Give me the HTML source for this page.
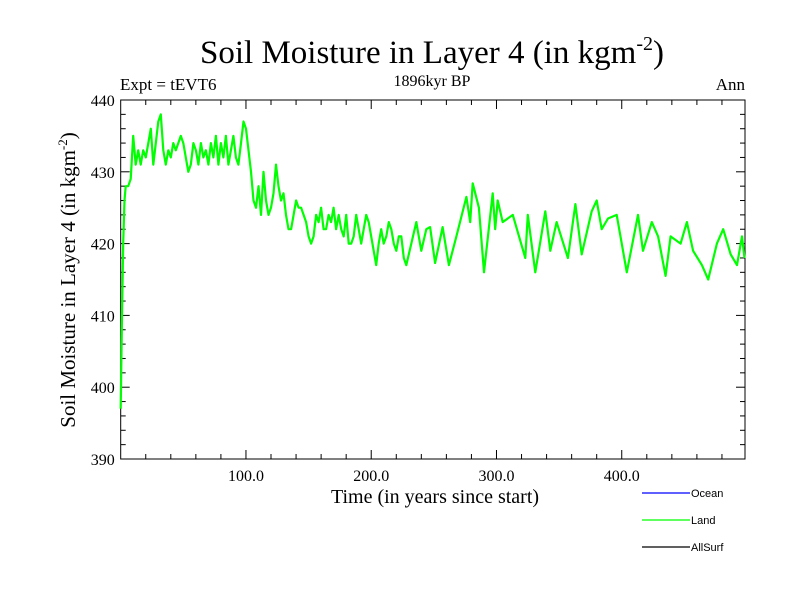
<!DOCTYPE html>
<html><head><meta charset="utf-8"><style>
body{margin:0;background:#fff;width:800px;height:600px;overflow:hidden}
text{font-family:"Liberation Serif",serif;fill:#000}
</style></head><body>
<svg width="800" height="600">
<text x="432" y="63" font-size="33" text-anchor="middle">Soil Moisture in Layer 4 (in kgm<tspan dy="-13" font-size="20">-2</tspan><tspan dy="13">)</tspan></text>
<text x="120" y="90" font-size="17">Expt = tEVT6</text>
<text x="432" y="86" font-size="16" text-anchor="middle">1896kyr BP</text>
<text x="745" y="90" font-size="17" text-anchor="end">Ann</text>
<text x="435" y="503" font-size="20" text-anchor="middle">Time (in years since start)</text>
<text transform="translate(75,280) rotate(-90)" font-size="21" text-anchor="middle">Soil Moisture in Layer 4 (in kgm<tspan dy="-8" font-size="13">-2</tspan><tspan dy="8">)</tspan></text>
<g id="axes"></g>
<g id="series"></g>
<g>
<line x1="642" y1="493" x2="690" y2="493" stroke="#0000ff" stroke-width="1.2"/>
<text x="691" y="497" font-size="11" style="font-family:'Liberation Sans',sans-serif">Ocean</text>
<line x1="642" y1="520" x2="690" y2="520" stroke="#00ff00" stroke-width="1.2"/>
<text x="691" y="524" font-size="11" style="font-family:'Liberation Sans',sans-serif">Land</text>
<line x1="642" y1="547" x2="690" y2="547" stroke="#000" stroke-width="1.2"/>
<text x="691" y="551" font-size="11" style="font-family:'Liberation Sans',sans-serif">AllSurf</text>
</g>
</svg>
<script>
const years=[0,1,2,3,4,6,8,10,12,14,16,18,20,22,24,26,28,30,32,34,36,38,40,42,44,46,48,50,52,54,56,58,60,62,64,66,68,70,72,74,76,78,80,82,84,86,88,90,92,94,96,98,100,102,104,106,108,110,112,114,116,118,120,122,124,126,128,130,132,134,136,138,140,142,144,146,148,150,152,154,156,158,160,162,164,166,168,170,172,174,176,178,180,182,184,186,188,190,192,194,196,198,200,202,204,206,208,210,212,214,216,218,220,222,224,226,228,232,236,240,244,247,251,257,262,268,276,279,281,286,290,297,299,301,305,313,323,325,331,339,343,348,357,363,368,376,380,384,389,396,404,413,417,424,429,435,439,447,452,457,464,469,476,481,487,492,496,498];
const landValues=[397,410,420,426,428,428,429,435,431,433,431,433,432,434,436,431,434,437,438,433,431,433,432,434,433,434,435,434,432,430,431,434,433,431,434,432,433,431,434,432,435,431,434,432,435,431,433,435,432,431,434,437,436,433,430,426,425,428,424,430,426,424,425,427,431,428,426,427,424,422,422,424,426,425,425,424,423,421,420,421,424,423,425,422,422,424,423,425,422,424,422,421,424,420,420,421,424,422,420,422,424,423,421,419,417,420,422,420,421,423,422,420,419,421,421,418,417,420,423,419,422,422.3,417.3,422.3,417,421,426.5,423,428.4,425,416,427,422,426,423,424,418,424,416,424.5,419,423,418,425.5,418.5,424.5,426,422,423.5,424,416,424,419,423,421,415.5,421,420,423,419,417,415,420,422,418.5,417,421,418];
const yTicks=[390,400,410,420,430,440];
const xTicks=[100,200,300,400];
const xTickLabels=["100.0","200.0","300.0","400.0"];
const L=120.7,R=745,T=100,B=459,xMax=498.4,yMin=390,yMax=440;
const sx=v=>L+v/xMax*(R-L), sy=v=>B-(v-yMin)/(yMax-yMin)*(B-T);
const NS="http://www.w3.org/2000/svg";
const ax=document.getElementById('axes');
function mk(t,a,p){const e=document.createElementNS(NS,t);for(const k in a)e.setAttribute(k,a[k]);(p||ax).appendChild(e);return e;}
const frame=mk('rect',{x:L,y:T,width:R-L,height:B-T,fill:'none',stroke:'#000','stroke-width':1});


for(let v=20;v<xMax;v+=20){const major=v%100===0;const len=major?9:5;const x=sx(v);
 mk('line',{x1:x,y1:B,x2:x,y2:B-len,stroke:'#000'});mk('line',{x1:x,y1:T,x2:x,y2:T+len,stroke:'#000'});}
for(let v=392;v<440;v+=2){const major=v%10===0;const len=major?9:5;const y=sy(v);
 mk('line',{x1:L,y1:y,x2:L+len,y2:y,stroke:'#000'});mk('line',{x1:R,y1:y,x2:R-len,y2:y,stroke:'#000'});}
xTicks.forEach((v,i)=>{const t=mk('text',{x:sx(v),y:481,'font-size':16,'text-anchor':'middle'});t.textContent=xTickLabels[i];
 
 });
yTicks.forEach(v=>{const t=mk('text',{x:L-6,y:sy(v)+6,'font-size':16,'text-anchor':'end'});t.textContent=v;
 
 });
const pts=years.map((y,i)=>sx(y).toFixed(1)+','+sy(landValues[i]).toFixed(1)).join(' ');
const line=mk('polyline',{points:pts,fill:'none',stroke:'#00ff00','stroke-width':2.2,'stroke-linejoin':'round'},document.getElementById('series'));


</script>
</body></html>
